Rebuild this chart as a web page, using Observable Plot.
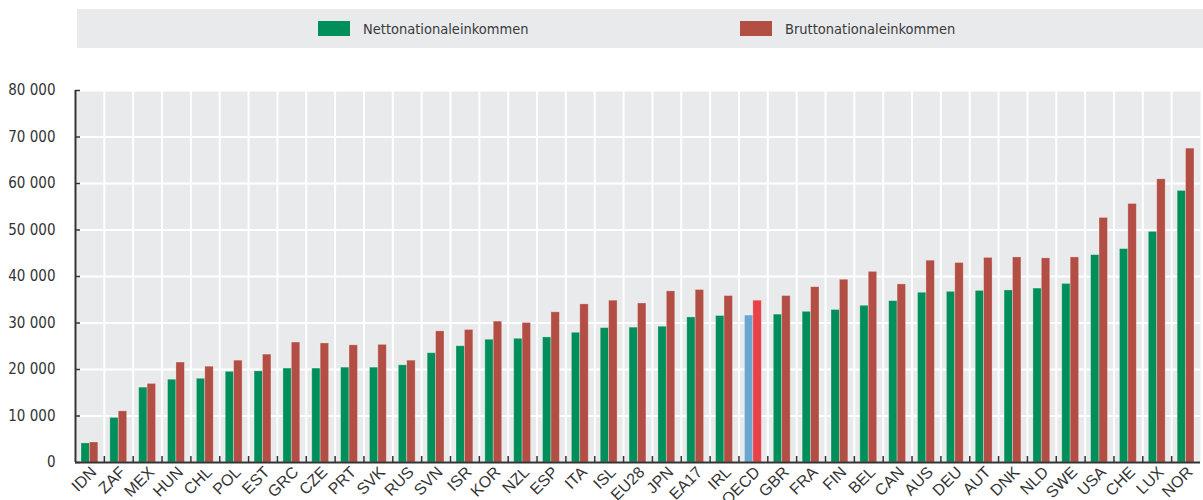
<!DOCTYPE html>
<html>
<head>
<meta charset="utf-8">
<script src="https://cdn.jsdelivr.net/npm/d3@7"></script>
<script src="https://cdn.jsdelivr.net/npm/@observablehq/plot@0.6"></script>
<style>
  html, body { margin: 0; padding: 0; background: #fff; }
  #wrap { position: relative; width: 1203px; height: 500px; overflow: hidden; }
  #legend { position: absolute; left: 77px; top: 9px; width: 1126px; height: 39px; background: #e9eaec; }
  .item { position: absolute; top: 0; height: 39px; display: flex; align-items: center;
          font-family: "Liberation Sans Narrow", "DejaVu Sans Condensed", sans-serif; font-size: 14.5px; color: #3a3a3a; }
  .sw { width: 32px; height: 15px; margin-right: 13px; }
  #chart { position: absolute; left: 0; top: 50px; }
</style>
</head>
<body>
<div id="wrap">
  <div id="legend"></div>
  <div id="chart"></div>
</div>
<script>
const countries = ["IDN","ZAF","MEX","HUN","CHL","POL","EST","GRC","CZE","PRT","SVK","RUS","SVN","ISR","KOR","NZL","ESP","ITA","ISL","EU28","JPN","EA17","IRL","OECD","GBR","FRA","FIN","BEL","CAN","AUS","DEU","AUT","DNK","NLD","SWE","USA","CHE","LUX","NOR"];
const netIncome = [4100,9600,16100,17800,18000,19500,19600,20200,20200,20400,20400,20900,23500,25000,26400,26600,26900,27900,28900,29000,29200,31200,31500,31600,31800,32400,32800,33700,34700,36500,36700,36900,37000,37400,38400,44600,45900,49600,58400];
const grossIncome = [4300,11000,16900,21500,20600,21900,23200,25800,25600,25200,25300,21900,28200,28500,30300,30000,32300,34000,34800,34200,36800,37100,35800,34800,35800,37700,39300,41000,38300,43400,42900,44000,44100,43900,44100,52600,55600,60900,67500];
const seriesNames = ["Nettonationaleinkommen", "Bruttonationaleinkommen"];
const seriesColors = ["#008f5a", "#b34e45"];
const highlightColors = ["#6aa6d2", "#e84147"];
const highlight = "OECD";
const yTicks = [0,10000,20000,30000,40000,50000,60000,70000,80000];

// legend
const legend = document.getElementById("legend");
const legendLeft = [241, 663];
seriesNames.forEach((name, i) => {
  const it = document.createElement("div");
  it.className = "item";
  it.style.left = legendLeft[i] + "px";
  it.innerHTML = `<span class="sw" style="background:${seriesColors[i]}"></span><span>${name}</span>`;
  legend.appendChild(it);
});

const W = 1203, H = 450, mL = 75, mR = 3, mT = 40, mB = 38;
const bw = (W - mL - mR) / countries.length;
const plotH = H - mT - mB;
const plotW = W - mL - mR;

const netData = countries.map((c, i) => ({country: c, value: netIncome[i]}));
const grossData = countries.map((c, i) => ({country: c, value: grossIncome[i]}));
const fmt = d => d3.format(",")(d).replace(/,/g, " ");
const narrow = "'Liberation Sans Narrow', 'DejaVu Sans Condensed', sans-serif";

const chart = Plot.plot({
  width: W, height: H,
  marginLeft: mL, marginRight: mR, marginTop: mT, marginBottom: mB,
  style: {background: "transparent", color: "#333", fontFamily: "'Liberation Sans', Arial, sans-serif", overflow: "visible"},
  x: {domain: countries, padding: 0, label: null},
  y: {domain: [0, 80000], label: null},
  marks: [
    Plot.frame({fill: "#e9eaec", stroke: "none"}),
    Plot.ruleY(yTicks, {stroke: "white", strokeWidth: 2}),
    Plot.ruleX(countries, {dx: -bw / 2, stroke: "white", strokeWidth: 2}),
    Plot.barY(netData, {x: "country", y: "value", insetLeft: 6, insetRight: 14.5,
      fill: d => d.country === highlight ? highlightColors[0] : seriesColors[0],
      stroke: "white", strokeOpacity: 0.35, strokeWidth: 0.8}),
    Plot.barY(grossData, {x: "country", y: "value", insetLeft: 14.4, insetRight: 6,
      fill: d => d.country === highlight ? highlightColors[1] : seriesColors[1],
      stroke: "white", strokeOpacity: 0.35, strokeWidth: 0.8}),
    Plot.ruleY([0], {stroke: "#333", strokeWidth: 2}),
    Plot.ruleX(countries.slice(0, 1), {dx: -bw / 2, stroke: "#333", strokeWidth: 2}),
    Plot.ruleY(yTicks, {stroke: "#333", strokeWidth: 1.5, insetRight: plotW - 5}),
    Plot.ruleX(countries.slice(1), {dx: -bw / 2, stroke: "#333", strokeWidth: 1.5, insetTop: plotH - 6}),
    Plot.axisY({ticks: yTicks, tickSize: 0, tickPadding: 20, tickFormat: fmt, fontSize: 15, fontFamily: narrow, label: null}),
    Plot.axisX({tickSize: 0, tickRotate: -45, tickPadding: 7, fontSize: 16, dx: 4, label: null})
  ]
});
document.getElementById("chart").appendChild(chart);
</script>
</body>
</html>
